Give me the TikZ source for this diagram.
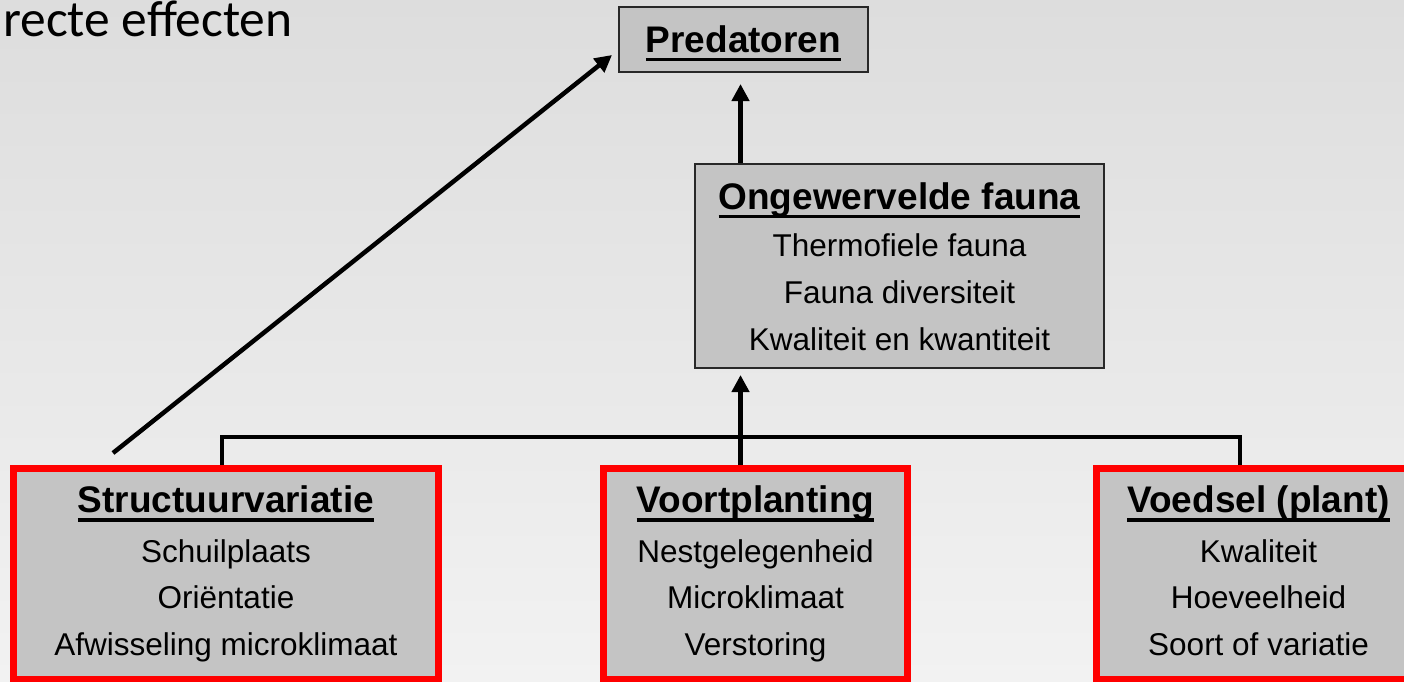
\documentclass[tikz,border=0pt]{standalone}
\usepackage{fontspec}
\setmainfont{Liberation Sans}
\newfontfamily\calfont{Carlito}
\usetikzlibrary{arrows.meta}
\definecolor{boxfill}{RGB}{196,196,196}
\definecolor{boxline}{RGB}{40,40,40}
\definecolor{bgtop}{RGB}{221,221,221}
\definecolor{bgbot}{RGB}{242,242,242}
% heading with a fixed-offset underline, as in slide software
\newcommand\ulhead[1]{\sbox0{#1}\rlap{\rule[-9pt]{\wd0}{3.5pt}}\usebox0}

\begin{document}
\begin{tikzpicture}[x=1pt,y=-1pt,
  greybox/.style={draw=boxline,line width=2pt,fill=boxfill,inner sep=0pt},
  redbox/.style={draw=red,line width=7pt,fill=boxfill,inner sep=0pt},
  headtxt/.style={anchor=base,inner sep=0pt,font=\fontsize{37pt}{44pt}\selectfont\bfseries},
  bodytxt/.style={anchor=base,inner sep=0pt,font=\fontsize{31.5pt}{38pt}\selectfont},
  titletxt/.style={anchor=base west,inner sep=0pt,font=\calfont\fontsize{51.5pt}{60pt}\selectfont},
  link/.style={draw=black,line width=4.5pt},
  arr/.style={-{Triangle[length=17pt,width=17pt]}}
]
\useasboundingbox (0,0) rectangle (1404,681);
\clip (0,0) rectangle (1404,681);
\shade[top color=bgtop,bottom color=bgbot] (0,0) rectangle (1404,681);

% slide title
\node[titletxt] (title) at (3,36) {recte effecten};

% boxes
\node[greybox,minimum width=249pt,minimum height=65pt] (pred) at (743.5,39.5) {};
\node[greybox,minimum width=409pt,minimum height=204pt] (ong) at (899.5,266) {};
\node[redbox,minimum width=425pt,minimum height=210.5pt] (struct) at (226,573.75) {};
\node[redbox,minimum width=304pt,minimum height=210.5pt] (voort) at (755.5,573.75) {};
\node[redbox,minimum width=340pt,minimum height=210.5pt] (voedsel) at (1266.5,573.75) {};

% box texts
\node[headtxt] (pred-h) at (743.5,52) {\ulhead{Predatoren}};

\node[headtxt] (ong-h) at (899.5,209) {\ulhead{Ongewervelde fauna}};
\node[bodytxt] (ong-1) at (899.5,256) {Thermofiele fauna};
\node[bodytxt] (ong-2) at (899.5,303) {Fauna diversiteit};
\node[bodytxt] (ong-3) at (899.5,350) {Kwaliteit en kwantiteit};

\node[headtxt] (struct-h) at (226,512.5) {\ulhead{Structuurvariatie}};
\node[bodytxt] (struct-1) at (226,562) {Schuilplaats};
\node[bodytxt] (struct-2) at (226,608.5) {Oriëntatie};
\node[bodytxt] (struct-3) at (226,655) {Afwisseling microklimaat};

\node[headtxt] (voort-h) at (755.5,512.5) {\ulhead{Voortplanting}};
\node[bodytxt] (voort-1) at (755.5,562) {Nestgelegenheid};
\node[bodytxt] (voort-2) at (755.5,608.5) {Microklimaat};
\node[bodytxt] (voort-3) at (755.5,655) {Verstoring};

\node[headtxt] (voedsel-h) at (1258.5,512.5) {\ulhead{Voedsel (plant)}};
\node[bodytxt] (voedsel-1) at (1258.5,562) {Kwaliteit};
\node[bodytxt] (voedsel-2) at (1258.5,608.5) {Hoeveelheid};
\node[bodytxt] (voedsel-3) at (1258.5,655) {Soort of variatie};

% connector geometry
\coordinate (spine) at (740.5,437);
\coordinate (hl) at (222,437);
\coordinate (hr) at (1240,437);
\coordinate (dstart) at (113,453);

% connectors
\draw[link] (struct.north -| hl) -- (hl) -- (hr) -- (voedsel.north -| hr);
\draw[link,arr,shorten >=6pt] (voort.north -| spine) -- (ong.south -| spine);
\draw[link,arr,shorten >=11pt] (ong.north -| spine) -- (pred.south -| spine);
\draw[link,arr] (dstart) -- ([xshift=-6pt,yshift=-15.5pt]pred.west);
\end{tikzpicture}
\end{document}
